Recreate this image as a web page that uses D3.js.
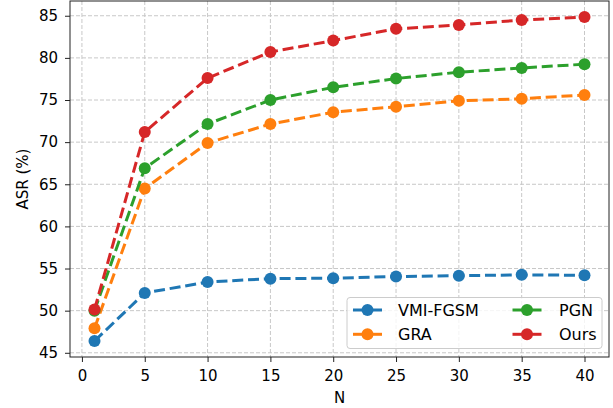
<!DOCTYPE html>
<html>
<head>
<meta charset="utf-8">
<script src="https://cdn.jsdelivr.net/npm/d3@7"></script>
<style>
  body { margin: 0; background: #fff; }
  text { font-family: "DejaVu Sans", sans-serif; }
</style>
</head>
<body>
<script>
'use strict';

// chart data
var steps = [1, 5, 10, 15, 20, 25, 30, 35, 40];
var vmiFgsm = [46.4, 52.1, 53.4, 53.8, 53.85, 54.05, 54.15, 54.25, 54.2];
var gra = [47.9, 64.5, 69.9, 72.15, 73.55, 74.2, 74.9, 75.15, 75.6];
var pgn = [50.0, 66.9, 72.15, 75.0, 76.5, 77.55, 78.3, 78.8, 79.25];
var ours = [50.15, 71.2, 77.6, 80.7, 82.05, 83.45, 83.9, 84.5, 84.85];
var seriesNames = ['VMI-FGSM', 'GRA', 'PGN', 'Ours'];
var xTicks = [0, 5, 10, 15, 20, 25, 30, 35, 40];
var yTicks = [45, 50, 55, 60, 65, 70, 75, 80, 85];

var colors = ['#1f77b4', '#ff7f0e', '#2ca02c', '#d62728'];
var allSeries = [vmiFgsm, gra, pgn, ours];

var width = 613, height = 408;
var plotLeft = 70, plotRight = 609, plotTop = 1, plotBottom = 357;

var svg = d3.select('body').append('svg')
    .attr('width', width)
    .attr('height', height);

var x = d3.scaleLinear().domain([-0.95, 41.95]).range([plotLeft, plotRight]);
var y = d3.scaleLinear().domain([44.5, 86.75]).range([plotBottom, plotTop]);

// grid
var grid = svg.append('g');
grid.selectAll('.vg').data(xTicks).enter().append('line')
    .attr('x1', function (d) { return x(d); })
    .attr('x2', function (d) { return x(d); })
    .attr('y1', plotTop).attr('y2', plotBottom)
    .attr('stroke', '#c8c8c8').attr('stroke-width', 1)
    .attr('stroke-dasharray', '4,2');
grid.selectAll('.hg').data(yTicks).enter().append('line')
    .attr('y1', function (d) { return y(d); })
    .attr('y2', function (d) { return y(d); })
    .attr('x1', plotLeft).attr('x2', plotRight)
    .attr('stroke', '#c8c8c8').attr('stroke-width', 1)
    .attr('stroke-dasharray', '4,2');

// axes
var xAxis = svg.append('g')
    .attr('transform', 'translate(0,' + plotBottom + ')')
    .call(d3.axisBottom(x).tickValues(xTicks).tickSizeOuter(0).tickSize(5).tickPadding(8));
var yAxis = svg.append('g')
    .attr('transform', 'translate(' + plotLeft + ',0)')
    .call(d3.axisLeft(y).tickValues(yTicks).tickSizeOuter(0).tickSize(5).tickPadding(7));
[xAxis, yAxis].forEach(function (a) {
    a.select('.domain').remove();
    a.selectAll('text').attr('font-size', '15px').attr('fill', '#000')
        .style('font-family', '"DejaVu Sans", sans-serif');
    a.selectAll('line').attr('stroke', '#222');
});

// frame
svg.append('rect')
    .attr('x', plotLeft).attr('y', plotTop)
    .attr('width', plotRight - plotLeft).attr('height', plotBottom - plotTop)
    .attr('fill', 'none').attr('stroke', '#222').attr('stroke-width', 1);

// axis labels
svg.append('text')
    .attr('x', (plotLeft + plotRight) / 2).attr('y', 403)
    .attr('text-anchor', 'middle').attr('font-size', '15px')
    .text('N');
svg.append('text')
    .attr('transform', 'translate(28,' + ((plotTop + plotBottom) / 2) + ') rotate(-90)')
    .attr('text-anchor', 'middle').attr('font-size', '15px')
    .text('ASR (%)');

// lines
var line = d3.line()
    .x(function (d, i) { return x(steps[i]); })
    .y(function (d) { return y(d); });

allSeries.forEach(function (series, k) {
    var g = svg.append('g');
    g.append('path')
        .datum(series)
        .attr('d', line)
        .attr('fill', 'none')
        .attr('stroke', colors[k])
        .attr('stroke-width', 3)
        .attr('stroke-dasharray', '11,4.8');
    g.selectAll('circle').data(series).enter().append('circle')
        .attr('cx', function (d, i) { return x(steps[i]); })
        .attr('cy', function (d) { return y(d); })
        .attr('r', 6)
        .attr('fill', colors[k]);
});

// legend
var legend = svg.append('g');
legend.append('rect')
    .attr('x', 347).attr('y', 297.5)
    .attr('width', 255).attr('height', 51)
    .attr('rx', 3)
    .attr('fill', 'rgba(255,255,255,0.8)')
    .attr('stroke', '#cccccc').attr('stroke-width', 1);

var legendPos = [
    {hx: 353, tx: 398, cy: 310},
    {hx: 353, tx: 398, cy: 334.3},
    {hx: 512.5, tx: 559, cy: 310},
    {hx: 512.5, tx: 559, cy: 334.3}
];
seriesNames.forEach(function (name, k) {
    var p = legendPos[k];
    legend.append('line')
        .attr('x1', p.hx).attr('x2', p.hx + 29)
        .attr('y1', p.cy).attr('y2', p.cy)
        .attr('stroke', colors[k]).attr('stroke-width', 3);
    legend.append('circle')
        .attr('cx', p.hx + 14.5).attr('cy', p.cy).attr('r', 6)
        .attr('fill', colors[k]);
    legend.append('text')
        .attr('x', p.tx).attr('y', p.cy + 5.6)
        .attr('font-size', '16px')
        .text(name);
});
</script>
</body>
</html>
